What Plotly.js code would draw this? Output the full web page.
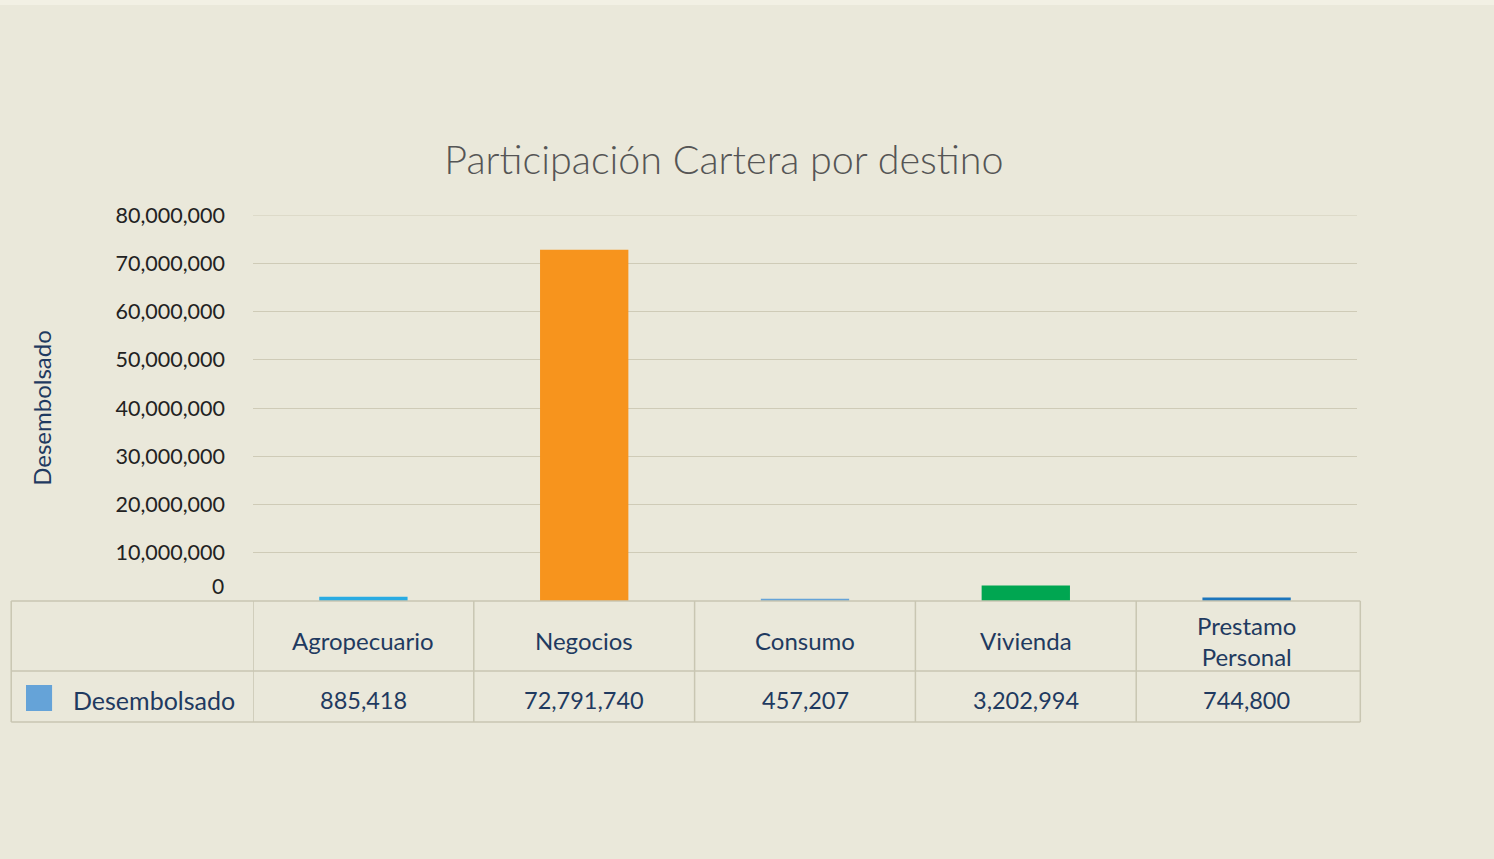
<!DOCTYPE html>
<html>
<head>
<meta charset="utf-8">
<script src="https://cdn.plot.ly/plotly-3.0.1.min.js"></script>
<style>html,body{margin:0;padding:0;background:#EAE8DA;}</style>
</head>
<body>
<div id="chart" style="width:1494px;height:859px;"></div>
<script>
const categories = ['Agropecuario', 'Negocios', 'Consumo', 'Vivienda', 'Prestamo Personal'];
const categoryLabels = ['Agropecuario', 'Negocios', 'Consumo', 'Vivienda', 'Prestamo<br>Personal'];
const desembolsado = [885418, 72791740, 457207, 3202994, 744800];
const yTickVals = [10000000, 20000000, 30000000, 40000000, 50000000, 60000000, 70000000, 80000000];
const seriesName = 'Desembolsado';

const barColors = ['#29ABE2', '#F7941D', '#65A3D8', '#00A651', '#1C75BC'];
const navy = '#1F3A60';
const borderColor = '#C9C6B2';
const FONT = 'Lato, "Open Sans", sans-serif';

const trace = {
  type: 'bar',
  x: categories,
  y: desembolsado,
  name: seriesName,
  width: 0.4,
  marker: {color: barColors},
  hoverinfo: 'x+y'
};

const shapes = [];
const annotations = [];

// top light strip
shapes.push({type:'rect', xref:'paper', yref:'paper', x0:-0.3, x1:1.2, y0:1.544, y1:1.6, fillcolor:'#F2F0E4', line:{width:0}, layer:'below'});
// top gridline (at the edge of the range)
shapes.push({type:'line', xref:'paper', yref:'y', x0:0, x1:1, y0:yTickVals[yTickVals.length-1], y1:yTickVals[yTickVals.length-1], line:{color:'#CFCBB7', width:1}, layer:'below'});

// Data table below the axis
const tableLeft = -0.219, tableRight = 1.003;
const yTop = 0, yMid = -0.1813, yBot = -0.3135;
[yTop, yMid, yBot].forEach(y => {
  shapes.push({type:'line', xref:'paper', yref:'paper', x0:tableLeft, x1:tableRight, y0:y, y1:y, line:{color:borderColor, width:1.5}});
});
shapes.push({type:'line', xref:'paper', yref:'paper', x0:tableLeft, x1:tableLeft, y0:yTop, y1:yBot, line:{color:borderColor, width:1.5}});
shapes.push({type:'line', xref:'paper', yref:'paper', x0:tableRight, x1:tableRight, y0:yTop, y1:yBot, line:{color:borderColor, width:1.5}});
for (let i = 0; i < categories.length; i++) {
  shapes.push({type:'line', xref:'x', yref:'paper', x0:i-0.5, x1:i-0.5, y0:yTop, y1:yBot, line:{color:borderColor, width:1.5}});
}
// legend square
shapes.push({type:'rect', xref:'paper', yref:'paper', x0:-0.2056, x1:-0.182, y0:-0.2176, y1:-0.285, fillcolor:'#65A3D8', line:{width:0}});

categories.forEach((c, i) => {
  annotations.push({xref:'x', yref:'paper', x:c, y:-0.1036, text:categoryLabels[i], showarrow:false,
    font:{family:FONT, size:24, color:navy}, xanchor:'center', yanchor:'middle'});
  annotations.push({xref:'x', yref:'paper', x:c, y:-0.2565, text:desembolsado[i].toLocaleString('en-US'), showarrow:false,
    font:{family:FONT, size:23.5, color:navy}, xanchor:'center', yanchor:'middle'});
});
annotations.push({xref:'paper', yref:'paper', x:-0.0897, y:-0.2565, text:seriesName, showarrow:false,
  font:{family:FONT, size:25, color:navy}, xanchor:'center', yanchor:'middle'});
// zero tick label (drawn slightly above the baseline as in the reference)
annotations.push({xref:'paper', yref:'y', x:-0.0245, y:0, yshift:16, text:'0', showarrow:false,
  font:{family:FONT, size:21, color:'#222'}, xanchor:'right', yanchor:'middle'});

const layout = {
  width: 1494,
  height: 859,
  paper_bgcolor: '#EAE8DA',
  plot_bgcolor: '#EAE8DA',
  margin: {l:253, r:137, t:215, b:258, pad:0},
  showlegend: false,
  title: {
    text: 'Participación Cartera por destino',
    x: 0.4846, xanchor: 'center', xref: 'container',
    y: 0.8137, yanchor: 'middle', yref: 'container',
    font: {family: FONT, size: 39.5, color: '#555555', weight: 300}
  },
  xaxis: {
    type: 'category',
    range: [-0.5, 4.5],
    showticklabels: false,
    showgrid: false,
    zeroline: false,
    showline: false,
    fixedrange: true
  },
  yaxis: {
    range: [0, 80000000],
    tickvals: yTickVals,
    tickformat: ',d',
    tickfont: {family: FONT, size: 21.5, color: '#222'},
    ticklabelstandoff: 27,
    gridcolor: '#CFCBB7',
    gridwidth: 1,
    zeroline: false,
    showline: false,
    automargin: false,
    title: {text: 'Desembolsado', font: {family: FONT, size: 24, color: navy}, standoff: 57},
    fixedrange: true
  },
  shapes: shapes,
  annotations: annotations,
  bargap: 0.6
};

Plotly.newPlot('chart', [trace], layout, {displayModeBar: false});
</script>
</body>
</html>
